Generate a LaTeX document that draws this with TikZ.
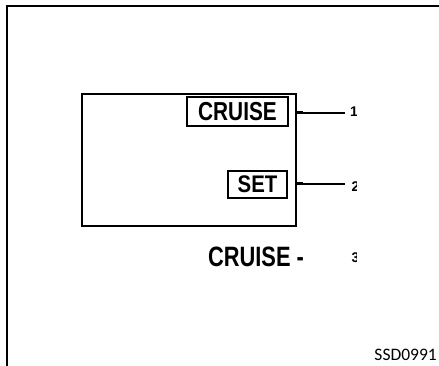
\documentclass[tikz,border=0pt]{standalone}
\usepackage{fontspec}
\usepackage{graphicx}
\setmainfont{Liberation Sans}
\newfontfamily\codefont{Carlito}
\tikzset{
  frameline/.style={line width=1.4pt},
  panelbox/.style={draw, line width=1.8pt, inner sep=0pt, anchor=north west},
  keybox/.style={draw, line width=1.8pt, inner sep=0pt},
  leader/.style={line width=1.5pt},
  numlabel/.style={anchor=west, inner sep=0pt, font=\fontsize{14}{14}\bfseries\selectfont},
}
\begin{document}
\begin{tikzpicture}[x=1pt,y=-1pt]
\useasboundingbox (0,0) rectangle (439,366);
% outer frame (left and top edges)
\draw[frameline] (7,366) -- (7,6) -- (439,6);
% panel
\node[panelbox, minimum width=214pt, minimum height=132pt] (panel) at (81,93) {};
\node[keybox, minimum width=101pt, minimum height=29pt] (cruisebox) at (237.5,111.5)
  {\scalebox{0.8}[1]{\fontsize{26}{26}\bfseries\selectfont CRUISE}};
\node[keybox, minimum width=59pt, minimum height=27pt] (setbox) at (257.5,184.5)
  {\scalebox{0.85}[1]{\fontsize{24}{24}\bfseries\selectfont SET}};
% leader ends
\coordinate (e1) at (345,113);
\coordinate (e2) at (345,184);
\draw[leader] (panel.east |- e1) -- (e1);
\draw[leader] (panel.east |- e2) -- (e2);
\fill (panel.east |- e1) ++(0,-1.5) rectangle ++(6,3);
\fill (panel.east |- e2) ++(0,-1.5) rectangle ++(6,3);
% bottom label
\node[inner sep=0pt] (cruiselbl) at (256,257)
  {\scalebox{0.78}[1]{\fontsize{28}{28}\bfseries\selectfont CRUISE -}};
% numbers (partly cut off)
\begin{scope}
\clip (340,95) rectangle (356,275);
\node[numlabel] (n1) at (350,112) {1};
\node[numlabel] (n2) at (351.5,186.5) {2};
\node[numlabel] (n3) at (351.5,257.5) {3};
\end{scope}
% code
\node[anchor=south east, inner sep=0pt] (code) at (437,361)
  {\codefont\fontsize{17.5}{17.5}\selectfont SSD0991};
\end{tikzpicture}
\end{document}
